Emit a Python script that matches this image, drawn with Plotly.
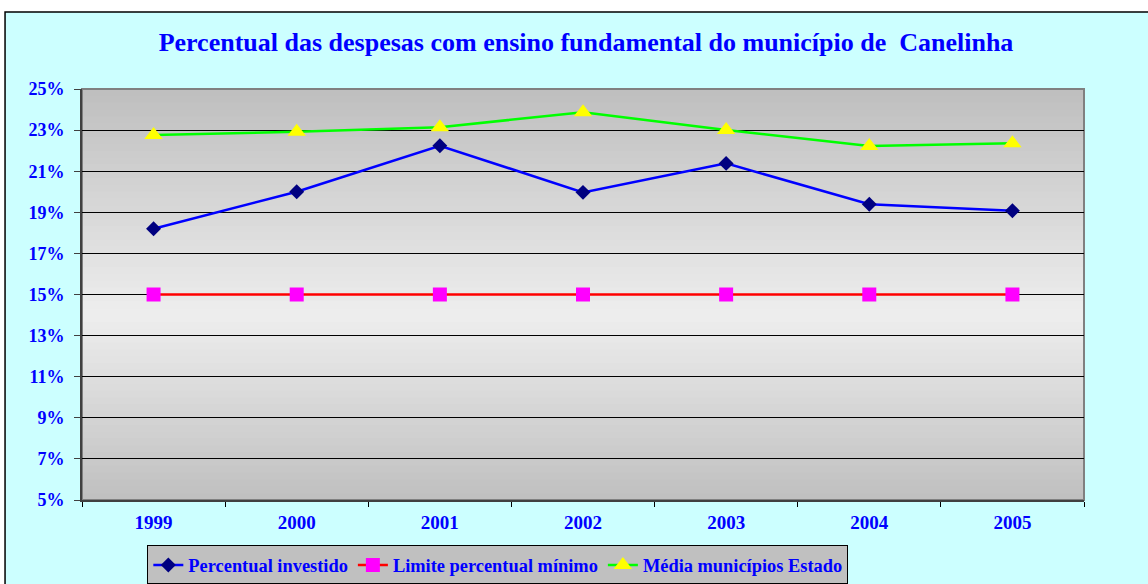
import plotly.graph_objects as go

years = ["1999", "2000", "2001", "2002", "2003", "2004", "2005"]
percentual_investido = [18.2, 20.0, 22.24, 19.97, 21.38, 19.39, 19.08]
limite_minimo = [15, 15, 15, 15, 15, 15, 15]
media_estado = [22.76, 22.92, 23.14, 23.87, 23.0, 22.23, 22.36]
y_ticks = [5, 7, 9, 11, 13, 15, 17, 19, 21, 23, 25]
y_tick_labels = [f"{v}%" for v in y_ticks]

BLUE = "#0000FF"
FONT = "Liberation Serif"

fig = go.Figure()
fig.add_trace(go.Scatter(x=years, y=percentual_investido, name="Percentual investido",
                         mode="lines+markers", line=dict(color="#0000FF", width=2.5),
                         marker=dict(symbol="diamond", size=11.5, color="#000080")))
fig.add_trace(go.Scatter(x=years, y=limite_minimo, name="Limite percentual mínimo",
                         mode="lines+markers", line=dict(color="#FF0000", width=2.5),
                         marker=dict(symbol="square", size=14, color="#FF00FF")))
fig.add_trace(go.Scatter(x=years, y=media_estado, name="Média municípios Estado",
                         mode="lines+markers", line=dict(color="#00FF00", width=2.5),
                         marker=dict(symbol="triangle-up", size=16, color="#FFFF00")))

shapes = []
# chart area background (cyan with black border)
shapes.append(dict(type="rect", xref="paper", yref="paper", x0=-0.0768, x1=1.2, y0=-0.3, y1=1.1873,
                   fillcolor="#CCFFFF", line=dict(color="black", width=1.5), layer="below"))
# gradient plot background
n = 60
peak = 0.45
def lerp(a, b, t):
    return int(round(a + (b - a) * t))
for i in range(n):
    f0 = i / n
    f1 = (i + 1) / n
    fm = (f0 + f1) / 2
    if fm < peak:
        t = fm / peak
        c = lerp(0xBF, 0xEE, t)
    else:
        t = (fm - peak) / (1 - peak)
        c = lerp(0xEE, 0xBE, t)
    col = "#%02x%02x%02x" % (c, c, c)
    shapes.append(dict(type="rect", xref="x domain", yref="y domain", x0=0, x1=1, y0=f0, y1=f1 + 0.002,
                       fillcolor=col, line=dict(width=0), layer="below"))
# plot-area border
shapes.append(dict(type="rect", xref="x domain", yref="y domain", x0=0, x1=1, y0=0, y1=1,
                   fillcolor="rgba(0,0,0,0)", line=dict(color="#808080", width=2), layer="below"))

fig.update_layout(
    width=1148, height=584,
    margin=dict(l=82, r=64, t=89, b=84, autoexpand=False),
    paper_bgcolor="white",
    plot_bgcolor="#DDDDDD",
    shapes=shapes,
    title=dict(text="<b>Percentual das despesas com ensino fundamental do município de&nbsp; Canelinha</b>",
               x=0.503, xref="paper", xanchor="center", y=1 - 42 / 584, yanchor="middle",
               font=dict(family=FONT, size=26, color=BLUE)),
    xaxis=dict(type="category", range=[-0.5, 6.5], showgrid=False,
               showline=True, linecolor="#404040", linewidth=2,
               ticks="outside", tickson="boundaries", ticklen=5, tickcolor="black",
               ticklabelstandoff=4,
               tickfont=dict(family=FONT, size=19, color=BLUE, weight="bold")),
    yaxis=dict(range=[5, 25], tickmode="array", tickvals=y_ticks, ticktext=y_tick_labels,
               showgrid=True, gridcolor="black", gridwidth=1,
               showline=True, linecolor="#404040", linewidth=2,
               ticks="outside", ticklen=6, tickcolor="#404040",
               ticklabelstandoff=6,
               zeroline=False,
               tickfont=dict(family=FONT, size=18, color=BLUE, weight="bold")),
    legend=dict(orientation="h", x=0.415, xanchor="center", y=-0.158, yanchor="middle",
                bgcolor="#C0C0C0", bordercolor="black", borderwidth=1,
                font=dict(family=FONT, size=18.4, color=BLUE, weight="bold"),
                itemwidth=30, tracegroupgap=0),
    showlegend=True,
)

fig.write_html("out.html", config={"displayModeBar": False},
               post_script="document.body.style.margin='0';document.body.style.padding='0';")
